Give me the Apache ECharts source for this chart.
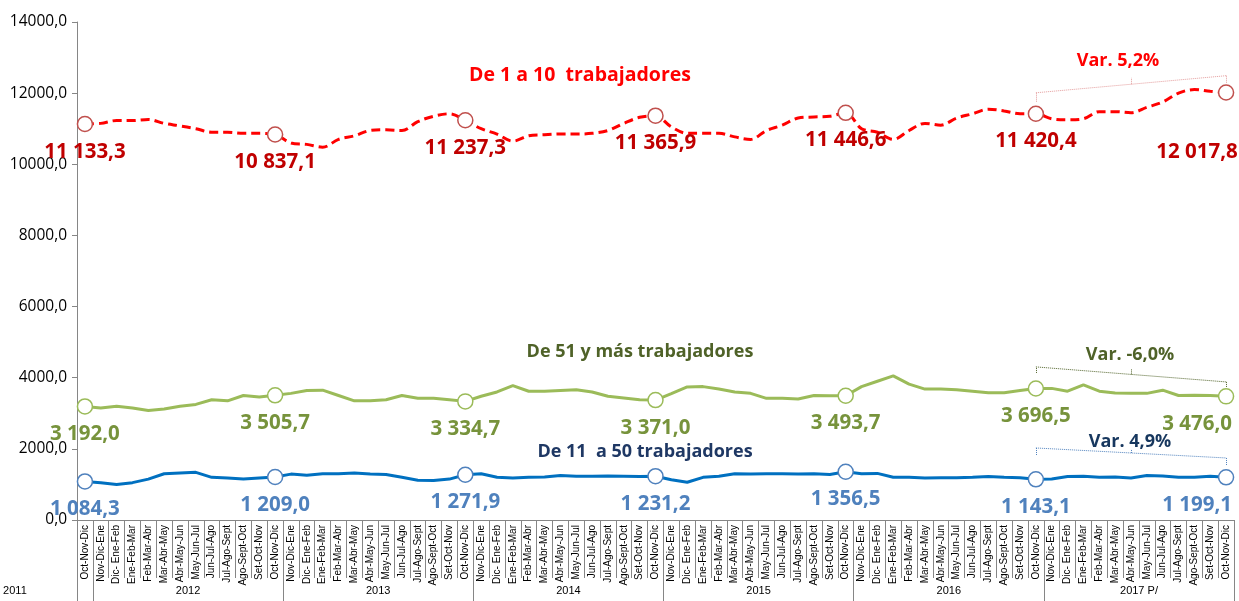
<!DOCTYPE html>
<html>
<head>
<meta charset="utf-8">
<script src="https://cdn.jsdelivr.net/npm/echarts@6/dist/echarts.min.js"></script>
<style>
  html, body { margin: 0; padding: 0; background: #fff; }
  #chart { width: 1239px; height: 601px; }
</style>
</head>
<body>
<div id="chart"></div>
<script>
// trimestres móviles
const months = ['Nov-Dic-Ene', 'Dic- Ene-Feb', 'Ene-Feb-Mar', 'Feb-Mar-Abr', 'Mar-Abr-May', 'Abr-May-Jun',
  'May-Jun-Jul', 'Jun-Jul-Ago', 'Jul-Ago-Sept', 'Ago-Sept-Oct', 'Set-Oct-Nov', 'Oct-Nov-Dic'];
const years = ['2011', '2012', '2013', '2014', '2015', '2016', '2017 P/'];

// De 1 a 10 trabajadores
const micro = [11133.3, 11150, 11230, 11230, 11260, 11150, 11080, 11000, 10900, 10900, 10870, 10870,
  10837.1, 10600, 10560, 10480, 10700, 10800, 10950, 10970, 10950, 11200, 11350, 11420,
  11237.3, 11000, 10850, 10650, 10800, 10830, 10850, 10850, 10870, 10950, 11150, 11320,
  11365.9, 11050, 10870, 10870, 10870, 10770, 10700, 10950, 11100, 11300, 11330, 11350,
  11446.6, 11000, 10900, 10700, 10950, 11150, 11100, 11300, 11420, 11550, 11500, 11420,
  11420.4, 11280, 11250, 11280, 11480, 11480, 11450, 11600, 11750, 12000, 12100, 12050,
  12017.8];

// De 51 y más trabajadores
const grande = [3192.0, 3150, 3200, 3150, 3080, 3120, 3200, 3250, 3380, 3350, 3500, 3460,
  3505.7, 3560, 3640, 3650, 3500, 3350, 3350, 3380, 3500, 3420, 3420, 3380,
  3334.7, 3480, 3600, 3780, 3620, 3620, 3640, 3660, 3600, 3480, 3430, 3380,
  3371.0, 3550, 3740, 3750, 3680, 3600, 3560, 3420, 3420, 3400, 3500, 3490,
  3493.7, 3750, 3900, 4050, 3820, 3680, 3680, 3660, 3620, 3580, 3580, 3640,
  3696.5, 3700, 3620, 3800, 3620, 3570, 3560, 3560, 3650, 3500, 3510, 3500,
  3476.0];

// De 11 a 50 trabajadores
const pequena = [1084.3, 1050, 1000, 1050, 1150, 1300, 1320, 1340, 1200, 1180, 1150, 1180,
  1209.0, 1290, 1260, 1300, 1300, 1320, 1290, 1280, 1200, 1120, 1110, 1150,
  1271.9, 1300, 1200, 1180, 1200, 1210, 1250, 1230, 1230, 1240, 1230, 1220,
  1231.2, 1130, 1060, 1200, 1230, 1300, 1290, 1300, 1300, 1290, 1300, 1280,
  1356.5, 1300, 1310, 1200, 1200, 1180, 1190, 1190, 1200, 1220, 1200, 1190,
  1143.1, 1150, 1220, 1230, 1200, 1210, 1180, 1250, 1240, 1200, 1200, 1230,
  1199.1];

// llaves de variación: [x0, y0-pie, y0-arriba, x1, y1-arriba, y1-pie, xMedio, yMedio-línea, yMedio-arriba]
const braceMicro = [60, 11760, 12010, 72, 12490, 12265, 66, 12250, 12430];
const braceGrande = [60, 4135, 4304, 72, 3882, 3713, 66, 4093, 4250];
const bracePequena = [60, 1828, 2025, 72, 1744, 1547, 66, 1885, 1997];

const categories = ['Oct-Nov-Dic'];
const yearCats = [years[0]];
for (let y = 1; y < years.length; y++) {
  months.forEach(m => { categories.push(m); yearCats.push(years[y]); });
}

const fmt = v => {
  const [i, d] = v.toFixed(1).split('.');
  return i.replace(/\B(?=(\d{3})+(?!\d))/g, ' ') + ',' + d;
};

function buildData(values, labelColor, markerColor, lastOffset) {
  return values.map((v, i) => {
    if (i % 12 !== 0) return { value: v, symbol: 'none' };
    return {
      value: v,
      symbol: 'circle',
      symbolSize: 15,
      itemStyle: { color: '#fff', borderColor: markerColor, borderWidth: 1.5 },
      label: {
        show: true,
        position: 'bottom',
        distance: 9,
        formatter: fmt(v),
        color: labelColor,
        fontSize: 20.5,
        fontWeight: 'bold',
        fontFamily: 'Open Sans',
        offset: i === values.length - 1 ? lastOffset : [0, 0]
      }
    };
  });
}

function brace(b, color) {
  const seg = (a, c) => [{ coord: a }, { coord: c }];
  return {
    silent: true,
    symbol: ['none', 'none'],
    label: { show: false },
    lineStyle: { color: color, width: 1, type: 'dotted' },
    data: [
      seg([b[0], b[1]], [b[0], b[2]]),
      seg([b[0], b[2]], [b[3], b[4]]),
      seg([b[3], b[4]], [b[3], b[5]]),
      seg([b[6], b[7]], [b[6], b[8]])
    ]
  };
}

const chart = echarts.init(document.getElementById('chart'));

const option = {
  animation: false,
  grid: { left: 77, right: 5, top: 22, bottom: 81 },
  xAxis: [{
    type: 'category',
    data: categories,
    boundaryGap: true,
    axisLine: { show: true, lineStyle: { color: '#868686' } },
    axisTick: { show: true, interval: 0, length: 58, lineStyle: { color: '#868686' } },
    axisLabel: { interval: 0, rotate: 90, fontSize: 10, color: '#000', margin: 5, fontFamily: 'Liberation Sans' }
  }, {
    type: 'category',
    data: yearCats,
    position: 'bottom',
    boundaryGap: true,
    axisLine: { show: false },
    axisTick: {
      show: true, length: 81,
      interval: i => i === 0 || (i - 1) % 12 === 0,
      lineStyle: { color: '#868686' }
    },
    axisLabel: {
      interval: i => i === 0 || (i - 1) % 12 === 5,
      margin: 65,
      fontSize: 11,
      color: '#000',
      fontFamily: 'Liberation Sans',
      formatter: (v, i) => i === 0 ? '{l|' + v + '}' : '{r|' + v + '}',
      rich: {
        l: { padding: [0, 140, 0, 0], fontSize: 11, fontFamily: 'Liberation Sans', color: '#000' },
        r: { padding: [0, 0, 0, 16], fontSize: 11, fontFamily: 'Liberation Sans', color: '#000' }
      }
    }
  }],
  yAxis: {
    type: 'value',
    min: 0,
    max: 14000,
    interval: 2000,
    axisLine: { show: true, lineStyle: { color: '#868686' } },
    axisTick: { show: true, length: 5, lineStyle: { color: '#868686' } },
    splitLine: { show: false },
    axisLabel: {
      formatter: v => v.toFixed(1).replace('.', ','),
      color: '#000', fontSize: 15.5, fontFamily: 'Open Sans', margin: 10
    }
  },
  series: [{
    name: 'De 1 a 10 trabajadores',
    type: 'line',
    smooth: 0.35,
    symbol: 'circle',
    showAllSymbol: true,
    emphasis: { disabled: true },
    lineStyle: { color: '#ff0000', width: 3, type: [9, 5] },
    itemStyle: { color: '#ff0000' },
    data: buildData(micro, '#c00000', '#c0504d', [-29, 32]),
    markLine: brace(braceMicro, '#e39a9a')
  }, {
    name: 'De 51 y más trabajadores',
    type: 'line',
    symbol: 'circle',
    showAllSymbol: true,
    emphasis: { disabled: true },
    lineStyle: { color: '#9bbb59', width: 3 },
    itemStyle: { color: '#9bbb59' },
    data: buildData(grande, '#77933c', '#9bbb59', [-29, 0]),
    markLine: brace(braceGrande, '#4f6228')
  }, {
    name: 'De 11 a 50 trabajadores',
    type: 'line',
    symbol: 'circle',
    showAllSymbol: true,
    emphasis: { disabled: true },
    lineStyle: { color: '#0070c0', width: 3 },
    itemStyle: { color: '#0070c0' },
    data: buildData(pequena, '#4f81bd', '#4f81bd', [-29, 0]),
    markLine: brace(bracePequena, '#4f81bd')
  }],
  graphic: [
    { type: 'text', x: 580, y: 75, style: { text: 'De 1 a 10  trabajadores', fill: '#ff0000', font: 'bold 19.5px "Open Sans"', textAlign: 'center', textVerticalAlign: 'middle' } },
    { type: 'text', x: 640, y: 352, style: { text: 'De 51 y más trabajadores', fill: '#4f6228', font: 'bold 18px "Open Sans"', textAlign: 'center', textVerticalAlign: 'middle' } },
    { type: 'text', x: 645, y: 452, style: { text: 'De 11  a 50 trabajadores', fill: '#1f3864', font: 'bold 18px "Open Sans"', textAlign: 'center', textVerticalAlign: 'middle' } },
    { type: 'text', x: 1118, y: 61, style: { text: 'Var. 5,2%', fill: '#ff0000', font: 'bold 18px "Open Sans"', textAlign: 'center', textVerticalAlign: 'middle' } },
    { type: 'text', x: 1130, y: 355, style: { text: 'Var. -6,0%', fill: '#4f6228', font: 'bold 18px "Open Sans"', textAlign: 'center', textVerticalAlign: 'middle' } },
    { type: 'text', x: 1130, y: 442, style: { text: 'Var. 4,9%', fill: '#17375e', font: 'bold 18px "Open Sans"', textAlign: 'center', textVerticalAlign: 'middle' } }
  ]
};

chart.setOption(option);
window.addEventListener('resize', function () {
  chart.resize();
});
</script>
</body>
</html>
